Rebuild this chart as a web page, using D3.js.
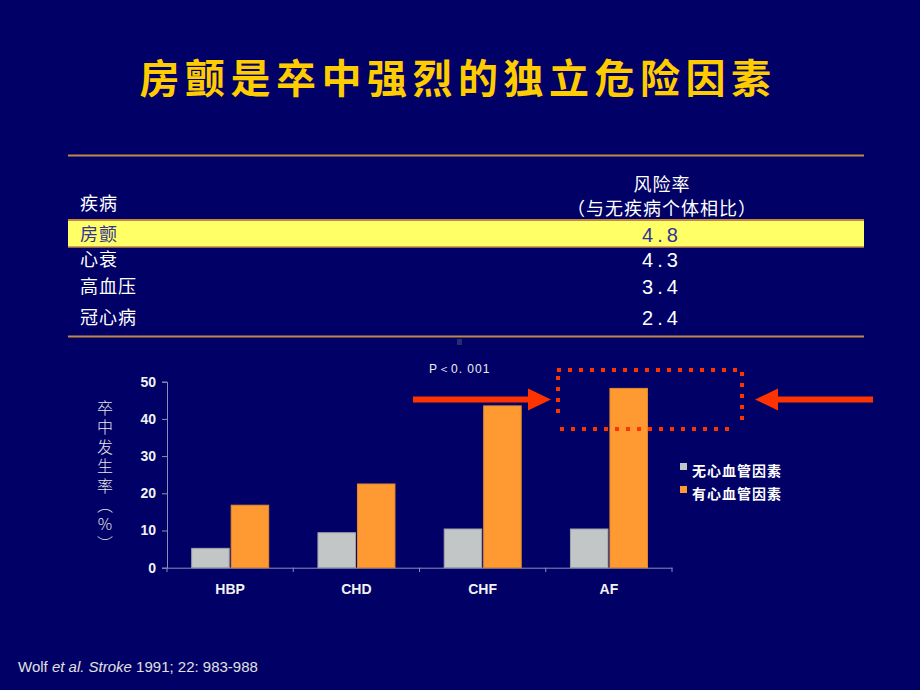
<!DOCTYPE html>
<html><head><meta charset="utf-8">
<script src="https://cdn.jsdelivr.net/npm/d3@7"></script>
<style>
html,body{margin:0;padding:0;background:#000066;}
svg{display:block;}
</style></head>
<body>
<script>
const title = "房颤是卒中强烈的独立危险因素";
const diseases = ["房颤", "心衰", "高血压", "冠心病"];
const riskRatios = ["4.8", "4.3", "3.4", "2.4"];
const categories = ["HBP", "CHD", "CHF", "AF"];
const noRiskFactor = [5.2, 9.4, 10.4, 10.4];
const withRiskFactor = [16.8, 22.5, 43.5, 48.2];
const yTicks = [0, 10, 20, 30, 40, 50];
const seriesNames = ["无心血管因素", "有心血管因素"];
const seriesColors = ["#C3C6C6", "#FF9A33"];
const yTitleText = "卒中发生率（%）";

const W = 920, H = 690;
const svg = d3.select("body").append("svg").attr("width", W).attr("height", H);
svg.append("rect").attr("width", W).attr("height", H).attr("fill", "#000066");

const cjk = "'Noto Sans CJK SC', sans-serif";
const latin = "Arial, 'Liberation Sans', sans-serif";
const narrow = "'Liberation Sans Narrow', 'Arial Narrow', Arial, sans-serif";

// Title
svg.append("text").attr("x", 458).attr("y", 93).attr("text-anchor", "middle")
  .attr("font-family", cjk).attr("font-size", 40).attr("font-weight", "bold")
  .attr("letter-spacing", 5.5).attr("fill", "#FFCC00").text(title);

// Table
const tL = 68, tR = 864;
svg.append("line").attr("x1", tL).attr("x2", tR).attr("y1", 155.5).attr("y2", 155.5)
  .attr("stroke", "#C08A45").attr("stroke-width", 2);
svg.append("rect").attr("x", tL).attr("y", 220).attr("width", tR - tL).attr("height", 27)
  .attr("fill", "#FFFF66");
svg.append("line").attr("x1", tL).attr("x2", tR).attr("y1", 220).attr("y2", 220)
  .attr("stroke", "#C08A45").attr("stroke-width", 2);
svg.append("line").attr("x1", tL).attr("x2", tR).attr("y1", 247).attr("y2", 247)
  .attr("stroke", "#C08A45").attr("stroke-width", 1.5);
svg.append("line").attr("x1", tL).attr("x2", tR).attr("y1", 336.5).attr("y2", 336.5)
  .attr("stroke", "#C08A45").attr("stroke-width", 2);
svg.append("rect").attr("x", 457).attr("y", 339).attr("width", 5).attr("height", 6).attr("fill", "#2A2A70");

svg.append("text").attr("x", 80).attr("y", 210).attr("font-family", cjk).attr("font-size", 18)
  .attr("letter-spacing", 1).attr("fill", "#FFFFFF").text("疾病");
svg.append("text").attr("x", 662).attr("y", 191).attr("text-anchor", "middle").attr("font-family", cjk)
  .attr("font-size", 18).attr("letter-spacing", 1).attr("fill", "#FFFFFF").text("风险率");
svg.append("text").attr("x", 662).attr("y", 215).attr("text-anchor", "middle").attr("font-family", cjk)
  .attr("font-size", 18).attr("letter-spacing", 1).attr("fill", "#FFFFFF").text("（与无疾病个体相比）");

const rowY = [241, 266, 293, 324];
diseases.forEach((d, i) => {
  const c = i === 0 ? "#333399" : "#FFFFFF";
  svg.append("text").attr("x", 80).attr("y", rowY[i]).attr("font-family", cjk).attr("font-size", 18)
    .attr("letter-spacing", 1).attr("fill", c).text(d);
  svg.append("text").attr("x", 662).attr("y", rowY[i] + 1).attr("text-anchor", "middle")
    .attr("font-family", narrow).attr("font-size", 20).attr("letter-spacing", 4)
    .attr("fill", c).text(riskRatios[i]);
});

// Chart
const x0 = d3.scaleBand().domain(categories).range([167, 672]).padding(0);
const x1 = d3.scaleBand().domain([0, 1]).range([24.7, 101.7]).paddingInner(0.05);
const y = d3.scaleLinear().domain([0, 50]).range([567.7, 381.7]);
const axisColor = "#8A8FB8";

const yAxis = svg.append("g").attr("transform", "translate(167,0)")
  .call(d3.axisLeft(y).tickValues(yTicks).tickSize(5).tickPadding(6));
yAxis.select(".domain").attr("stroke", axisColor);
yAxis.selectAll(".tick line").attr("stroke", axisColor);
yAxis.selectAll(".tick text").attr("fill", "#F2F2F2").attr("font-family", latin)
  .attr("font-size", 14).attr("font-weight", "bold");

const xAxis = svg.append("g").attr("transform", "translate(0,567.7)")
  .call(d3.axisBottom(x0).tickSize(0).tickPadding(16));
xAxis.select(".domain").attr("stroke", axisColor);
xAxis.selectAll(".tick text").attr("fill", "#F2F2F2").attr("font-family", latin)
  .attr("font-size", 14).attr("font-weight", "bold");
const bounds = categories.map(c => x0(c)).concat([x0.range()[1]]);
svg.append("g").selectAll("line").data(bounds).join("line")
  .attr("x1", d => d).attr("x2", d => d).attr("y1", 567.7).attr("y2", 572)
  .attr("stroke", axisColor);

const groups = svg.append("g").selectAll("g").data(categories).join("g")
  .attr("transform", d => `translate(${x0(d)},0)`);
groups.selectAll("rect").data((d, i) => [noRiskFactor[i], withRiskFactor[i]]).join("rect")
  .attr("x", (d, j) => x1(j)).attr("width", x1.bandwidth())
  .attr("y", d => y(d)).attr("height", d => y(0) - y(d))
  .attr("fill", (d, j) => seriesColors[j])
  .attr("stroke", (d, j) => j === 0 ? "#9FA3A8" : "#E58A2A").attr("stroke-width", 1);

// Y title (vertical writing mode)
svg.append("text").attr("x", 105).attr("y", 400)
  .style("writing-mode", "vertical-rl").style("text-orientation", "upright")
  .attr("font-family", cjk).attr("font-size", 16).attr("font-weight", 300)
  .attr("letter-spacing", 3.4).attr("fill", "#E6E6E6").text(yTitleText);

// Legend
seriesNames.forEach((n, i) => {
  svg.append("rect").attr("x", 680).attr("y", 463 + i * 23).attr("width", 7).attr("height", 7)
    .attr("fill", seriesColors[i]);
  svg.append("text").attr("x", 692).attr("y", 476 + i * 23).attr("font-family", cjk)
    .attr("font-size", 14).attr("font-weight", "bold").attr("letter-spacing", 1)
    .attr("fill", "#FFFFFF").text(n);
});

// P value
svg.append("text").attr("x", 429).attr("y", 373).attr("font-family", latin).attr("font-size", 12)
  .attr("letter-spacing", 1).attr("fill", "#EEEEEE").text("P＜0. 001");

// Arrows
const red = "#FF3300";
svg.append("path").attr("fill", red)
  .attr("d", "M413,396.5 L528,396.5 L528,388.5 L551,399.5 L528,410.5 L528,402.5 L413,402.5 Z");
svg.append("path").attr("fill", red)
  .attr("d", "M873,396.5 L778,396.5 L778,388.5 L755,399.5 L778,410.5 L778,402.5 L873,402.5 Z");

// Dotted box
svg.append("path").attr("fill", "none").attr("stroke", red).attr("stroke-width", 4)
  .attr("stroke-dasharray", "4,7")
  .attr("d", "M557,370 L742,370 L742,420");
svg.append("path").attr("fill", "none").attr("stroke", red).attr("stroke-width", 4)
  .attr("stroke-dasharray", "4,7")
  .attr("d", "M558,376 L558,420");
svg.append("path").attr("fill", "none").attr("stroke", red).attr("stroke-width", 4)
  .attr("stroke-dasharray", "4,7")
  .attr("d", "M560,429 L736,429");

// Citation
const cite = svg.append("text").attr("x", 18).attr("y", 672).attr("font-family", latin)
  .attr("font-size", 15).attr("fill", "#E0E0E0");
cite.append("tspan").text("Wolf ");
cite.append("tspan").attr("font-style", "italic").text("et al. Stroke");
cite.append("tspan").text(" 1991; 22: 983-988");
</script>
</body></html>
